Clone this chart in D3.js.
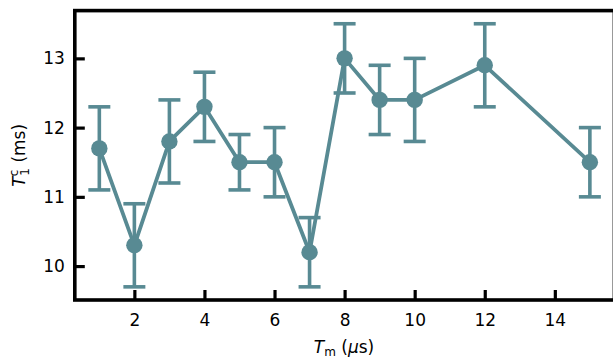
<!DOCTYPE html>
<html><head><meta charset="utf-8">
<script src="https://cdn.jsdelivr.net/npm/d3@7"></script>
<style>body{margin:0;background:#fff}svg{display:block}text{font-family:"DejaVu Sans",sans-serif;fill:#000}</style>
</head><body>
<svg id="c" width="613" height="358"></svg>
<script>
const tm = [1, 2, 3, 4, 5, 6, 7, 8, 9, 10, 12, 15];
const t1c = [11.7, 10.3, 11.8, 12.3, 11.5, 11.5, 10.2, 13.0, 12.4, 12.4, 12.9, 11.5];
const errLow = [0.6, 0.6, 0.6, 0.5, 0.4, 0.5, 0.5, 0.5, 0.5, 0.6, 0.6, 0.5];
const errHigh = [0.6, 0.6, 0.6, 0.5, 0.4, 0.5, 0.5, 0.5, 0.5, 0.6, 0.6, 0.5];
const xTicks = [2, 4, 6, 8, 10, 12, 14];
const yTicks = [10, 11, 12, 13];

const color = "#588a93";
const svg = d3.select("#c");
const x = d3.scaleLinear().domain([0.3, 15.7]).range([74.8, 614.4]);
const y = d3.scaleLinear().domain([9.51, 13.69]).range([300, 10.6]);
const data = tm.map((d, i) => ({x: d, y: t1c[i], lo: t1c[i] - errLow[i], hi: t1c[i] + errHigh[i]}));

const xAxis = d3.axisBottom(x).tickValues(xTicks).tickFormat(d3.format("d")).tickSizeInner(-10).tickSizeOuter(0).tickPadding(14);
const yAxis = d3.axisLeft(y).tickValues(yTicks).tickFormat(d3.format("d")).tickSizeInner(-10).tickSizeOuter(0).tickPadding(10);
const gx = svg.append("g").attr("transform", `translate(0,${y.range()[0]})`).call(xAxis);
const gy = svg.append("g").attr("transform", `translate(${x.range()[0]},0)`).call(yAxis);
[gx, gy].forEach(g => {
  g.select(".domain").remove();
  g.selectAll(".tick line").attr("stroke", "#000").attr("stroke-width", 3.2);
  g.selectAll(".tick text").attr("font-size", 17).attr("fill", "#000").style("font-family", "DejaVu Sans");
});

const g = svg.append("g");
g.selectAll(".eb").data(data).join("line")
  .attr("x1", d => x(d.x)).attr("x2", d => x(d.x))
  .attr("y1", d => y(d.lo)).attr("y2", d => y(d.hi))
  .attr("stroke", color).attr("stroke-width", 3.6);
["lo", "hi"].forEach(k => {
  g.selectAll(".cap" + k).data(data).join("line")
    .attr("x1", d => x(d.x) - 11).attr("x2", d => x(d.x) + 11)
    .attr("y1", d => y(d[k])).attr("y2", d => y(d[k]))
    .attr("stroke", color).attr("stroke-width", 3.6);
});
g.append("path").datum(data)
  .attr("d", d3.line().x(d => x(d.x)).y(d => y(d.y)))
  .attr("fill", "none").attr("stroke", color).attr("stroke-width", 3.8).attr("stroke-linejoin", "round");
g.selectAll("circle").data(data).join("circle")
  .attr("cx", d => x(d.x)).attr("cy", d => y(d.y)).attr("r", 8.2).attr("fill", color);

const [x0, x1] = x.range(), [y0, y1] = y.range();
svg.append("rect").attr("x", x0).attr("y", y1).attr("width", x1 - x0).attr("height", y0 - y1)
  .attr("fill", "none").attr("stroke", "#000").attr("stroke-width", 3.6);

const xl = svg.append("text").attr("x", 344).attr("y", 353).attr("text-anchor", "middle").attr("font-size", 17);
xl.append("tspan").attr("font-style", "italic").text("T");
xl.append("tspan").attr("font-size", 12).attr("dy", 3).text("m");
xl.append("tspan").attr("dy", -3).text(" (");
xl.append("tspan").attr("font-style", "italic").text("μ");
xl.append("tspan").text("s)");

const yl = svg.append("text").attr("transform", `translate(25,${(y0 + y1) / 2}) rotate(-90)`).attr("text-anchor", "middle").attr("font-size", 17);
yl.append("tspan").attr("font-style", "italic").text("T");
yl.append("tspan").attr("font-size", 12).attr("dy", -7).text("c");
yl.append("tspan").attr("font-size", 12).attr("dx", -6).attr("dy", 11).text("1");
yl.append("tspan").attr("dy", -4).text(" (ms)");
</script>
</body></html>
